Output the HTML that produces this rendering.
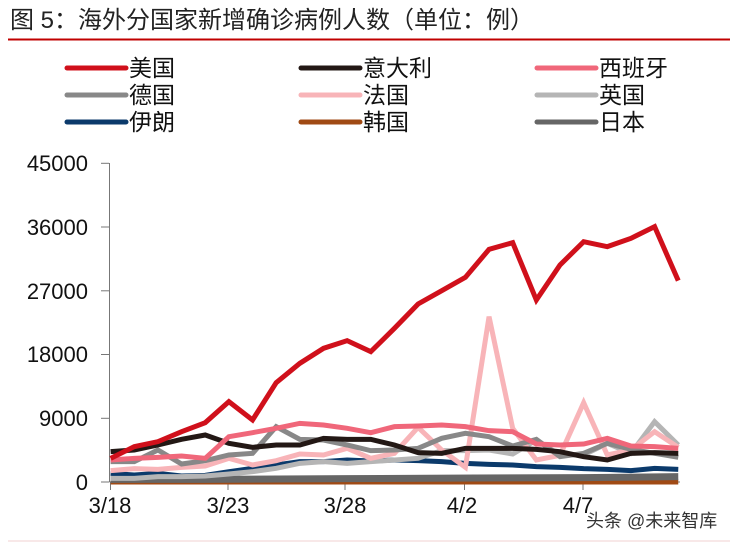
<!DOCTYPE html>
<html><head><meta charset="utf-8"><style>
html,body{margin:0;padding:0;background:#fff;}
body{width:736px;height:544px;overflow:hidden;position:relative;font-family:"Liberation Sans","Noto Sans CJK SC",sans-serif;}
</style></head><body>
<svg width="736" height="544" xmlns="http://www.w3.org/2000/svg" style="position:absolute;left:0;top:0">
<text x="10" y="28" font-size="24" fill="#222" font-family="Liberation Sans, Noto Sans CJK SC, sans-serif">图 5：海外分国家新增确诊病例人数（单位：例）</text>
<line x1="8" y1="39.5" x2="730" y2="39.5" stroke="#c00000" stroke-width="2"/>
<g font-size="23" fill="#111" font-family="Liberation Sans, Noto Sans CJK SC, sans-serif" stroke-linecap="round" stroke-width="5">
<line x1="67" y1="68" x2="126" y2="68" stroke="#d0101b"/><text x="129" y="76">美国</text>
<line x1="301" y1="68" x2="360" y2="68" stroke="#231815"/><text x="363" y="76">意大利</text>
<line x1="537" y1="68" x2="596" y2="68" stroke="#f0677a"/><text x="599" y="76">西班牙</text>
<line x1="67" y1="95" x2="126" y2="95" stroke="#888"/><text x="129" y="103">德国</text>
<line x1="301" y1="95" x2="360" y2="95" stroke="#f8b4b8"/><text x="363" y="103">法国</text>
<line x1="537" y1="95" x2="596" y2="95" stroke="#b5b5b5"/><text x="599" y="103">英国</text>
<line x1="67" y1="122" x2="126" y2="122" stroke="#0b3a6b"/><text x="129" y="130">伊朗</text>
<line x1="301" y1="122" x2="360" y2="122" stroke="#a04a14"/><text x="363" y="130">韩国</text>
<line x1="537" y1="122" x2="596" y2="122" stroke="#666"/><text x="599" y="130">日本</text>
</g>
<g font-size="22" fill="#111" text-anchor="end">
<text x="88" y="171">45000</text><text x="88" y="235">36000</text><text x="88" y="299">27000</text>
<text x="88" y="362">18000</text><text x="88" y="426">9000</text><text x="88" y="490">0</text>
</g>
<g stroke="#777" stroke-width="1">
<line x1="109.5" y1="163" x2="109.5" y2="482"/>
<line x1="101" y1="163.3" x2="109" y2="163.3"/><line x1="101" y1="227" x2="109" y2="227"/>
<line x1="101" y1="290.8" x2="109" y2="290.8"/><line x1="101" y1="354.5" x2="109" y2="354.5"/>
<line x1="101" y1="418.3" x2="109" y2="418.3"/><line x1="101" y1="482" x2="109" y2="482"/>
<line x1="109.5" y1="482" x2="680" y2="482"/>
<line x1="110.5" y1="482" x2="110.5" y2="490"/><line x1="228" y1="482" x2="228" y2="490"/>
<line x1="345" y1="482" x2="345" y2="490"/><line x1="464.5" y1="482" x2="464.5" y2="490"/><line x1="583" y1="482" x2="583" y2="490"/>
</g>
<g font-size="22" fill="#111" text-anchor="middle">
<text x="110" y="513">3/18</text><text x="228" y="513">3/23</text><text x="345" y="513">3/28</text><text x="462" y="513">4/2</text><text x="578" y="513">4/7</text>
</g>
<g transform="translate(60,200) scale(0.41494,0.33333)" fill="none" stroke-linejoin="miter">
<polyline vector-effect="non-scaling-stroke" stroke-width="5" stroke="#a04a14" points="122,846 1490,846"/>
<polyline vector-effect="non-scaling-stroke" stroke-width="7" stroke="#666" points="122,838 350,838 692,836 1000,834 1260,833 1490,830"/>
<polyline vector-effect="non-scaling-stroke" stroke-width="5" stroke="#0b3a6b" points="122,820 179,825 236,820 293,828 350,826 407,815 464,805 521,795 578,785 635,785 692,780 749,783 806,780 863,782 920,785 977,790 1034,793 1091,795 1148,800 1205,802 1262,806 1319,808 1376,812 1433,805 1490,808"/>
<polyline vector-effect="non-scaling-stroke" stroke-width="5" stroke="#b5b5b5" points="122,835 179,835 236,830 293,830 350,828 407,822 464,815 521,805 578,790 635,785 692,790 749,785 806,780 863,775 920,752 977,752 1034,750 1091,762 1148,720 1205,765 1262,765 1319,730 1376,760 1433,665 1490,735"/>
<polyline vector-effect="non-scaling-stroke" stroke-width="5" stroke="#f8b4b8" points="122,812 179,806 236,808 293,802 350,798 407,775 464,795 521,782 578,762 635,765 692,745 749,775 806,760 863,682 920,750 977,802 1034,350 1091,685 1148,780 1205,766 1262,608 1319,765 1376,750 1433,695 1490,742"/>
<polyline vector-effect="non-scaling-stroke" stroke-width="5" stroke="#888" points="122,785 179,785 236,750 293,792 350,782 407,765 464,760 521,680 578,718 635,720 692,735 749,752 806,750 863,745 920,715 977,700 1034,710 1091,738 1148,718 1205,770 1262,760 1319,730 1376,748 1433,760 1490,772"/>
<polyline vector-effect="non-scaling-stroke" stroke-width="5" stroke="#231815" points="122,755 179,750 236,735 293,718 350,705 407,730 464,742 521,735 578,735 635,715 692,718 749,718 806,735 863,758 920,760 977,745 1034,745 1091,745 1148,748 1205,755 1262,770 1319,780 1376,760 1433,758 1490,760"/>
<polyline vector-effect="non-scaling-stroke" stroke-width="5" stroke="#f0677a" points="122,780 179,775 236,772 293,768 350,775 407,710 464,698 521,685 578,670 635,675 692,685 749,698 806,680 863,678 920,675 977,680 1034,692 1091,695 1148,732 1205,735 1262,732 1319,715 1376,738 1433,740 1490,745"/>
<polyline vector-effect="non-scaling-stroke" stroke-width="5" stroke="#d0101b" points="122,775 179,740 236,725 293,695 350,668 407,605 464,660 521,548 578,490 635,445 692,422 749,455 806,385 863,312 920,272 977,232 1034,148 1091,128 1148,300 1205,195 1262,125 1319,140 1376,115 1433,80 1490,242"/>
</g>
<text x="586" y="527" font-size="18" fill="#333" font-family="Liberation Sans, Noto Sans CJK SC, sans-serif">头条 @未来智库</text>
<line x1="8" y1="541" x2="730" y2="541" stroke="#f0d0d0" stroke-width="1"/>
</svg>
</body></html>
